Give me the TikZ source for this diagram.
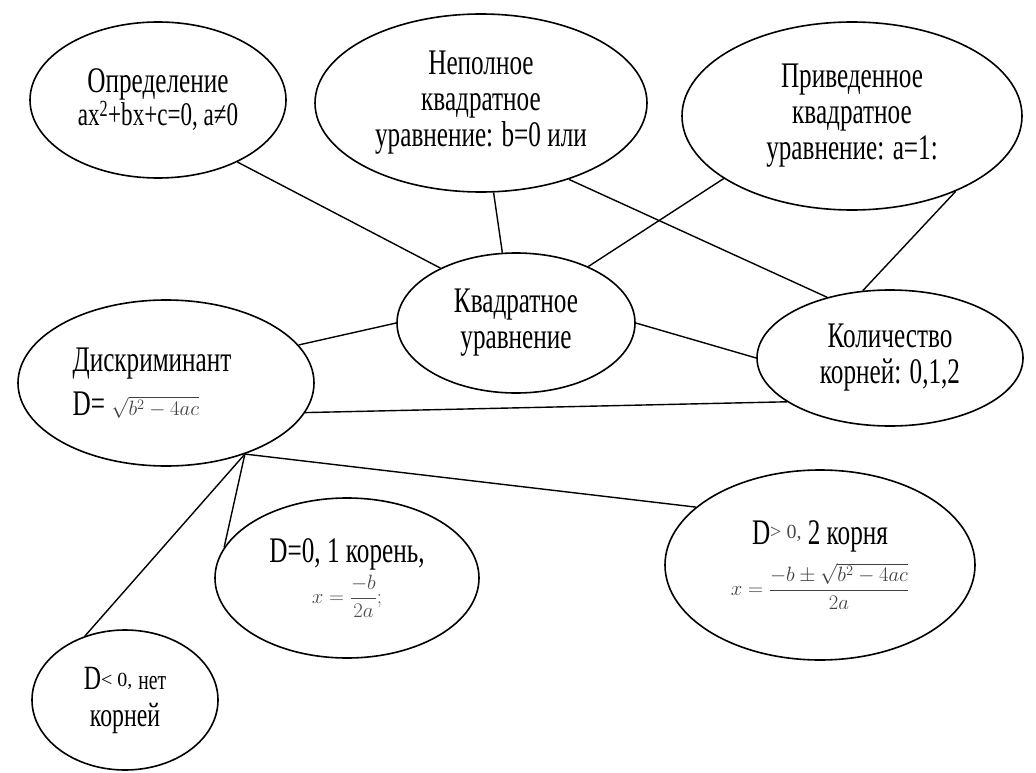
\documentclass[tikz,border=0pt]{standalone}
\usepackage{amsmath}
\usepackage{fontspec}
\setmainfont{Liberation Serif}
\newfontfamily\tallserif[FakeStretch=0.7]{Liberation Serif}
\usetikzlibrary{shapes, positioning}

\begin{document}
\begin{tikzpicture}[x=1pt, y=-1pt,
	bubble/.style={ellipse, draw, line width=1.6pt, inner sep=0pt, align=center,
		font=\tallserif\fontsize{36}{36}\selectfont},
	link/.style={line width=1.4pt}]
	\useasboundingbox (0,0) rectangle (1036,773);
	
	%% upper row
	\node[bubble, minimum width=256, minimum height=156] (opred) at (158,100)
	{Определение\\[-3pt]{\fontsize{33}{33}\selectfont ax\textsuperscript{2}+bx+c=0, a≠0}};
	\node[bubble, minimum width=332, minimum height=178] (nepoln) at (481,103)
	{Неполное\\квадратное\\уравнение: b=0 или};
	\node[bubble, minimum width=340, minimum height=188] (priv) at (852,116)
	{Приведенное\\квадратное\\уравнение: a=1:};
	
	%% middle
	\node[bubble, minimum width=238, minimum height=140] (kvadr) at (516,323)
	{Квадратное\\уравнение};
	\node[bubble, minimum width=266, minimum height=136] (kolvo) at (890,358)
	{Количество\\корней: 0,1,2};
	\node[bubble, align=left, minimum width=296, minimum height=166] (diskr) at (166,383)
	{Дискриминант\hspace*{28pt}\\[8pt]D= {\fontsize{20}{24}\selectfont\color{black!75}$\sqrt{b^2-4ac}$}};
	
	%% cases of D
	\node[bubble, minimum width=264, minimum height=160] (dzero) at (347,578)
	{D=0, 1 корень,\\[4pt]{\fontsize{20}{24}\selectfont\color{black!70}$x=\dfrac{-b}{2a};$}};
	\node[bubble, minimum width=186, minimum height=140, font=\tallserif\fontsize{34}{37}\selectfont] (dneg) at (125,700)
	{D{\normalfont\fontsize{20}{20}\selectfont\raisebox{3pt}{< 0,}}~{\fontsize{28}{28}\selectfont нет}\\корней};
	\node[bubble, minimum width=310, minimum height=190] (dbig) at (820,565)
	{D{\normalfont\fontsize{20}{20}\selectfont\color{black!70}\raisebox{6pt}{> 0,}} 2 корня\\[10pt]
		{\fontsize{20}{24}\selectfont\color{black!75}$x=\dfrac{-b\pm\sqrt{b^2-4ac}}{2a}$}};
	
	%% links
	\draw[link] (opred.-38) -- (kvadr.144);
	\draw[link] (nepoln.-82) -- (kvadr.101);
	\draw[link] (nepoln.-41) -- (kolvo.136);
	\draw[link] (kvadr.38) -- (priv.206);
	\draw[link] (priv.-36) -- (kolvo.112);
	\draw[link] (diskr.16) -- (kvadr.180);
	\draw[link] (kvadr.0) -- (kolvo.180);
	\draw[link] (diskr.-12) -- (kolvo.203);
	\draw[link] (diskr.-42) -- (dbig.155);
	\draw[link] (diskr.-42) -- (dzero.166);
	\draw[link] (diskr.-42) -- (dneg.122);
\end{tikzpicture}
\end{document}
